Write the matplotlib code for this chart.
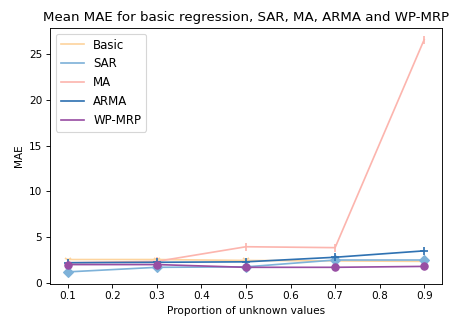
import matplotlib
matplotlib.use("Agg")
import matplotlib.pyplot as plt

proportions = [0.1, 0.3, 0.5, 0.7, 0.9]
basic = [2.55, 2.55, 2.45, 2.4, 2.35]
sar = [1.2, 1.7, 1.75, 2.5, 2.5]
ma = [2.2, 2.35, 3.95, 3.85, 26.6]
arma = [2.2, 2.25, 2.3, 2.8, 3.5]
wpmrp = [2.0, 2.0, 1.7, 1.7, 1.8]

series = [
    ("Basic", basic, "#fdd49e", "1"),
    ("SAR", sar, "#7eb2d9", "D"),
    ("MA", ma, "#fcb5ae", "|"),
    ("ARMA", arma, "#2f72b2", "+"),
    ("WP-MRP", wpmrp, "#984ea3", "o"),
]

dpi = 81
plt.rcParams["font.size"] = 10
fig = plt.figure(figsize=(460 / dpi, 322 / dpi), dpi=dpi)
ax = fig.add_axes([50 / 460, 1 - 283.5 / 322, 392 / 460, 255.5 / 322])
for name, vals, color, marker in series:
    ax.plot(proportions, vals, color=color, label=name, linewidth=1.5)
    ax.plot(proportions, vals, color=color, linestyle="none", marker=marker,
            markersize=6.5, markeredgewidth=1.5 if marker in "1|+" else 1)

ax.set_xticks([0.1, 0.2, 0.3, 0.4, 0.5, 0.6, 0.7, 0.8, 0.9])
ax.set_yticks([0, 5, 10, 15, 20, 25])
ax.tick_params(labelsize=9.3)
ax.set_xlabel("Proportion of unknown values", fontsize=9.3)
ax.set_ylabel("MAE", fontsize=9.3)
ax.set_title("Mean MAE for basic regression, SAR, MA, ARMA and WP-MRP", fontsize=11.9)
ax.legend(loc="upper left", fontsize=10.4)
fig.savefig("out.png", dpi=dpi)
